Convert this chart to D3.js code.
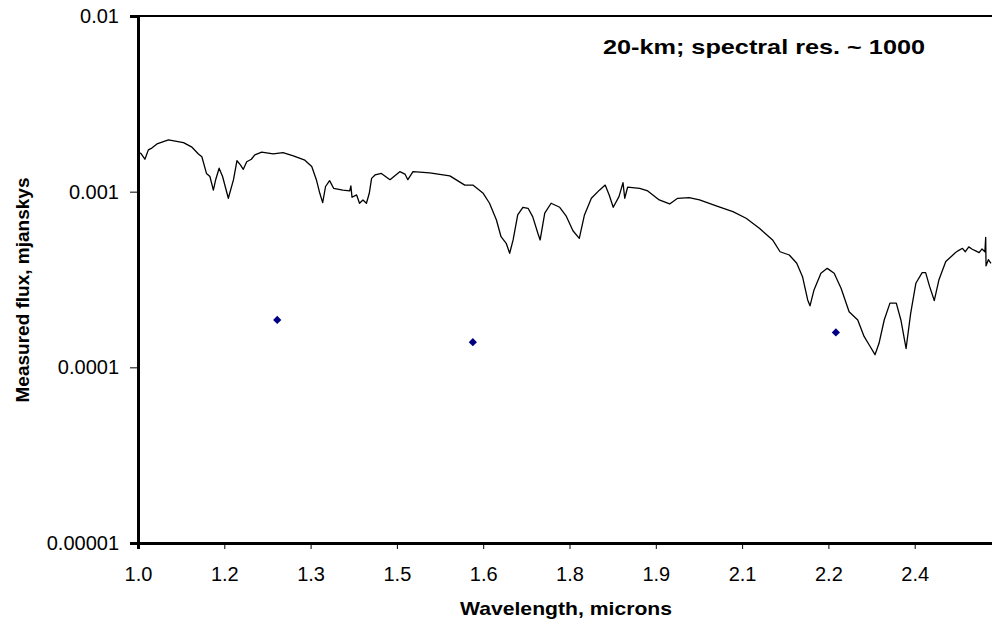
<!DOCTYPE html>
<html>
<head>
<meta charset="utf-8">
<script src="https://cdn.jsdelivr.net/npm/d3@7"></script>
<style>
  body { margin: 0; background: #fff; }
  text { font-family: "Liberation Sans", Arial, sans-serif; }
</style>
</head>
<body>
<svg id="chart" width="992" height="626"></svg>
<script>
// spectrum (flux in units of 1e-4 mjanskys)
const wavelength = [
  1.000, 1.005, 1.012, 1.018, 1.024, 1.033, 1.053, 1.079, 1.093, 1.105,
  1.111, 1.119, 1.125, 1.131, 1.135, 1.141, 1.147, 1.157, 1.166, 1.172,
  1.178, 1.183, 1.189, 1.197, 1.203, 1.215, 1.235, 1.252, 1.270, 1.290,
  1.302, 1.310, 1.316, 1.321, 1.326, 1.333, 1.340, 1.356, 1.368, 1.370,
  1.372, 1.380, 1.385, 1.391, 1.397, 1.402, 1.406, 1.412, 1.423, 1.438,
  1.455, 1.464, 1.469, 1.478, 1.507, 1.542, 1.568, 1.582, 1.600, 1.611,
  1.623, 1.631, 1.640, 1.646, 1.652, 1.660, 1.669, 1.678, 1.686, 1.695,
  1.699, 1.707, 1.718, 1.733, 1.744, 1.756, 1.767, 1.776, 1.788, 1.802,
  1.812, 1.819, 1.826, 1.836, 1.843, 1.846, 1.851, 1.872, 1.886, 1.906,
  1.924, 1.938, 1.958, 1.976, 2.005, 2.034, 2.057, 2.080, 2.103, 2.116,
  2.132, 2.145, 2.155, 2.164, 2.168, 2.175, 2.187, 2.198, 2.210, 2.222,
  2.236, 2.251, 2.262, 2.271, 2.281, 2.288, 2.297, 2.307, 2.318, 2.326,
  2.335, 2.343, 2.352, 2.363, 2.369, 2.376, 2.384, 2.392, 2.404, 2.421,
  2.426, 2.433, 2.438, 2.444, 2.450, 2.456, 2.462, 2.467, 2.472, 2.4734,
  2.4740, 2.4780, 2.4826
];
const flux = [
  16.7, 16.5, 15.3, 17.3, 17.7, 18.7, 19.7, 19.0, 18.0, 16.4,
  15.8, 12.7, 12.2, 10.2, 11.7, 13.6, 12.2, 9.17, 11.7, 15.0,
  14.2, 13.4, 14.8, 15.3, 16.2, 16.8, 16.4, 16.7, 16.0, 15.1,
  13.9, 11.7, 9.79, 8.66, 10.7, 11.55, 10.45, 10.2, 10.1, 10.8,
  9.29, 9.58, 8.59, 8.97, 8.59, 9.79, 11.9, 12.45, 12.7, 11.7,
  13.0, 12.6, 11.7, 13.0, 12.8, 12.3, 10.9, 10.9, 9.79, 8.59,
  6.90, 5.54, 5.08, 4.46, 5.31, 7.37, 8.15, 8.04, 7.21, 5.80,
  5.31, 7.54, 8.59, 8.15, 7.29, 5.99, 5.42, 7.37, 9.17, 10.2,
  10.9, 9.58, 8.15, 9.37, 11.25, 9.17, 10.6, 10.45, 10.1, 8.97,
  8.51, 9.17, 9.24, 8.97, 8.29, 7.69, 7.06, 6.19, 5.31, 4.55,
  4.36, 3.91, 3.28, 2.42, 2.24, 2.76, 3.43, 3.66, 3.43, 2.82,
  2.07, 1.86, 1.50, 1.34, 1.18, 1.37, 1.86, 2.32, 2.32, 1.86,
  1.28, 2.03, 3.01, 3.46, 3.46, 2.88, 2.40, 3.14, 4.00, 4.50,
  4.62, 4.76, 4.55, 4.85, 4.70, 4.60, 4.50, 4.72, 4.55, 5.50,
  3.78, 4.10, 3.91
];

// broadband photometry points
const photWavelength = [1.242, 1.582, 2.213];
const photFlux = [1.86e-4, 1.39e-4, 1.58e-4];

const xTicks = [1.0, 1.15, 1.3, 1.45, 1.6, 1.75, 1.9, 2.05, 2.2, 2.35];
const xTickLabels = ['1.0', '1.2', '1.3', '1.5', '1.6', '1.8', '1.9', '2.1', '2.2', '2.4'];
const yTicks = [1e-5, 1e-4, 1e-3, 1e-2];
const yTickLabels = ['0.00001', '0.0001', '0.001', '0.01'];

const plot = { left: 138, right: 1001, top: 16, bottom: 543 };

const svg = d3.select('#chart');

const x = d3.scaleLinear().domain([1.0, 2.5]).range([plot.left, plot.right]);
const y = d3.scaleLog().domain([1e-5, 1e-2]).range([plot.bottom, plot.top]);

// plot area top border
svg.append('line')
  .attr('x1', plot.left).attr('x2', plot.right)
  .attr('y1', plot.top).attr('y2', plot.top)
  .attr('stroke', '#000').attr('stroke-width', 2);

// spectrum
const spectrum = wavelength.map((w, i) => ({ w, f: flux[i] * 1e-4 }));
svg.append('path')
  .datum(spectrum)
  .attr('fill', 'none')
  .attr('stroke', '#000')
  .attr('stroke-width', 1.3)
  .attr('stroke-linejoin', 'round')
  .attr('d', d3.line().x(d => x(d.w)).y(d => y(d.f)));

// photometry diamonds
svg.selectAll('.phot')
  .data(photWavelength.map((w, i) => ({ w, f: photFlux[i] })))
  .enter()
  .append('path')
  .attr('class', 'phot')
  .attr('d', d3.symbol(d3.symbolSquare, 34))
  .attr('transform', d => `translate(${x(d.w)},${y(d.f)}) rotate(45)`)
  .attr('fill', '#000080');

// x axis
const xAxis = svg.append('g')
  .attr('transform', `translate(0,${plot.bottom})`)
  .call(d3.axisBottom(x)
    .tickValues(xTicks)
    .tickFormat((d, i) => xTickLabels[i])
    .tickSizeOuter(0)
    .tickSize(6)
    .tickPadding(18));
xAxis.select('.domain').attr('stroke-width', 3);
xAxis.selectAll('.tick line').attr('stroke-width', 1);
xAxis.selectAll('text').style('font-size', '20px').attr('fill', '#000');

// y axis
const yAxis = svg.append('g')
  .attr('transform', `translate(${plot.left},0)`)
  .call(d3.axisLeft(y)
    .tickValues(yTicks)
    .tickFormat((d, i) => yTickLabels[i])
    .tickSizeOuter(0)
    .tickSize(8)
    .tickPadding(11));
yAxis.select('.domain').attr('stroke-width', 3);
yAxis.selectAll('.tick line').attr('stroke-width', 1);
yAxis.selectAll('text').style('font-size', '20px').attr('fill', '#000');

// axis titles
svg.append('text')
  .attr('x', 566).attr('y', 615)
  .attr('text-anchor', 'middle')
  .style('font-size', '19px').style('font-weight', 'bold')
  .attr('textLength', 212).attr('lengthAdjust', 'spacingAndGlyphs')
  .text('Wavelength, microns');

svg.append('text')
  .attr('transform', 'translate(29,290) rotate(-90)')
  .attr('text-anchor', 'middle')
  .style('font-size', '19px').style('font-weight', 'bold')
  .text('Measured flux, mjanskys');

// annotation
svg.append('text')
  .attr('x', 764).attr('y', 54)
  .attr('text-anchor', 'middle')
  .style('font-size', '21px').style('font-weight', 'bold')
  .attr('textLength', 322).attr('lengthAdjust', 'spacingAndGlyphs')
  .text('20-km; spectral res. ~ 1000');
</script>
</body>
</html>
